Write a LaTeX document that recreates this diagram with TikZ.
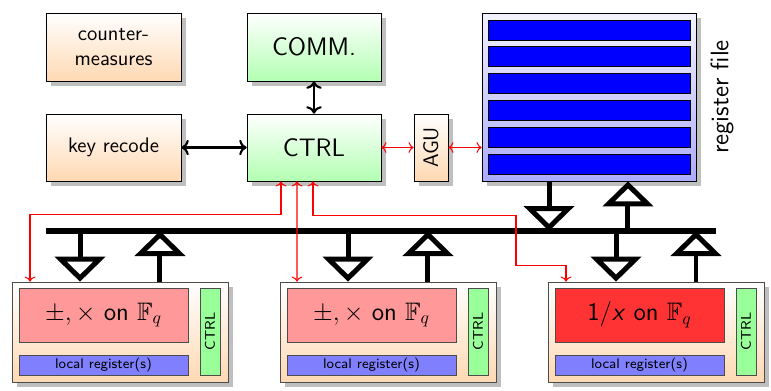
\documentclass[tikz,border=0pt]{standalone}
\usepackage{amsmath}
\usepackage{amssymb}
\usepackage{tikz}
\usetikzlibrary{positioning,arrows.meta,shadows}
\renewcommand{\familydefault}{\sfdefault}

\begin{document}
\begin{tikzpicture}[x=0.02cm,y=-0.02cm,
    box/.style={draw,inner sep=0pt,align=center,
      drop shadow={shadow xshift=0.1cm,shadow yshift=-0.1cm,fill=black!25,opacity=1}},
    orangebox/.style={box,top color=white,bottom color=orange!30},
    greenbox/.style={box,top color=white,bottom color=green!30},
    bigarrow/.style={line width=0.1cm,-{Triangle[open,width=1cm,length=0.5cm]}},
    ctrlline/.style={red,semithick,<->}]
  \useasboundingbox (0,0) rectangle (771,390);

  % top row
  \node[orangebox,minimum width=2.7cm,minimum height=1.36cm,font=\large] (cm) at (113.5,47) {counter-\\measures};
  \node[greenbox,minimum width=2.68cm,minimum height=1.36cm,font=\Large] (comm) at (314,47) {COMM.};
  \node[orangebox,minimum width=2.7cm,minimum height=1.34cm,font=\large] (key) at (113.5,147.5) {key recode};
  \node[greenbox,minimum width=2.68cm,minimum height=1.34cm,font=\Large] (ctrl) at (314,147.5) {CTRL};
  \node[orangebox,minimum width=0.68cm,minimum height=1.34cm,font=\large] (agu) at (431,147.5) {\rotatebox{90}{AGU}};

  % register file
  \node[box,top color=blue!5,bottom color=blue!33,minimum width=4.28cm,minimum height=3.36cm] (rf) at (589,97) {};
  \foreach \i in {0,...,5}
    \node[draw,fill=blue,inner sep=0pt,minimum width=4.04cm,minimum height=0.4cm] (reg\i) at (589,30+26.8*\i) {};
  \node[rotate=90,font=\Large] (rflabel) at (722,97) {register file};

  \draw[very thick,<->] (key) -- (ctrl);
  \draw[very thick,<->] (comm) -- (ctrl);
  \draw[ctrlline] (ctrl) -- (agu);
  \draw[ctrlline] (agu.east) -- (agu.east -| rf.west);

  % bus
  \coordinate (busL) at (46,231);
  \coordinate (busR) at (716,231);
  \draw[line width=0.12cm] (busL) -- (busR);
  \coordinate (rfdn) at ([xshift=-0.8cm]rf.south);
  \coordinate (rfup) at ([xshift=0.78cm]rf.south);
  \draw[bigarrow] (rfdn) -- (rfdn |- busL);
  \draw[bigarrow] (rfup |- busL) -- (rfup);

  % arithmetic units
  \foreach \x/\n/\col/\op in {120/alua/red!40/{$\pm,\times$ on $\mathbb{F}_q$},
                              388/alub/red!40/{$\pm,\times$ on $\mathbb{F}_q$},
                              656/inv/red!80/{1/\textit{x} on $\mathbb{F}_q$}} {
    \node[orangebox,draw=black!70,minimum width=4.32cm,minimum height=2cm] (\n) at (\x,332) {};
    \node[draw=black!70,fill=\col,inner sep=0pt,minimum width=3.38cm,minimum height=1.08cm,
      font=\Large,anchor=north west] (op\n) at ([shift={(7,6)}]\n.north west) {\op};
    \node[draw=black!70,fill=blue!50,inner sep=0pt,minimum width=3.38cm,minimum height=0.4cm,
      font=\footnotesize,anchor=north west] (lr\n) at ([shift={(7,73)}]\n.north west) {local register(s)};
    \node[draw=black!70,fill=green!40,inner sep=0pt,minimum width=0.4cm,minimum height=1.74cm,
      font=\footnotesize,anchor=north west] (ct\n) at ([shift={(188,6)}]\n.north west) {\rotatebox{90}{CTRL}};
    \coordinate (dn\n) at ([xshift=-0.8cm]\n.north);
    \coordinate (up\n) at ([xshift=0.8cm]\n.north);
    \draw[bigarrow] (dn\n |- busL) -- (dn\n);
    \draw[bigarrow] (up\n) -- (up\n |- busL);
  }

  % control lines
  \draw[ctrlline] ([xshift=-0.66cm]ctrl.south) -- ++(0,33) -| ([xshift=-1.8cm]alua.north);
  \draw[ctrlline] ([xshift=-0.34cm]ctrl.south) -- ([xshift=-1.82cm]alub.north);
  \draw[ctrlline] ([xshift=-0.02cm]ctrl.south) -- ++(0,34) -| ++(203,50) -| ([xshift=-1.8cm]inv.north);
\end{tikzpicture}
\end{document}
